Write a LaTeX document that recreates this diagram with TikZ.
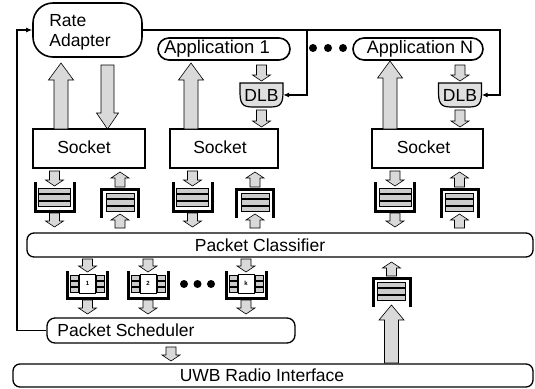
\documentclass[tikz,border=0pt]{standalone}
\usepackage{fontspec}
\setmainfont{Liberation Sans}
\usetikzlibrary{arrows.meta}
\newcommand{\UArr}[6]{\filldraw[barr] ({#1-#4},#2) -- ({#1-#4},{#3+#6}) -- ({#1-#5},{#3+#6}) -- (#1,#3) -- ({#1+#5},{#3+#6}) -- ({#1+#4},{#3+#6}) -- ({#1+#4},#2) -- cycle;}
\newcommand{\DArr}[6]{\filldraw[barr] ({#1-#4},#2) -- ({#1-#4},{#3-#6}) -- ({#1-#5},{#3-#6}) -- (#1,#3) -- ({#1+#5},{#3-#6}) -- ({#1+#4},{#3-#6}) -- ({#1+#4},#2) -- cycle;}
\newcommand{\SU}[3]{\UArr{#1}{#2}{#3}{5}{9}{6}}
\newcommand{\SD}[3]{\DArr{#1}{#2}{#3}{5}{9}{6}}
\newcommand{\QDown}[2]{%
 \foreach \o in {6,12.5,19}{\filldraw[bar] ({#1-16},{#2+\o}) rectangle ({#1+16},{#2+\o+5.5});}
 \draw[wall] ({#1-19.5},#2) -- ({#1-19.5},{#2+29}) -- ({#1+19.5},{#2+29}) -- ({#1+19.5},#2);}
\newcommand{\QUp}[2]{%
 \foreach \o in {4,10.5,17}{\filldraw[bar] ({#1-14},{#2+\o}) rectangle ({#1+14},{#2+\o+5.5});}
 \draw[wall] ({#1-18.5},{#2+29}) -- ({#1-18.5},#2) -- ({#1+18.5},#2) -- ({#1+18.5},{#2+29});}
\newcommand{\QNum}[3]{%
 \foreach \o in {4,10,16}{\filldraw[bar] ({#1-17},{#2+\o}) rectangle ({#1-9},{#2+\o+5}); \filldraw[bar] ({#1+9},{#2+\o}) rectangle ({#1+17},{#2+\o+5});}
 \filldraw[draw=black, line width=0.4pt, fill=white] ({#1-8},{#2+3}) rectangle ({#1+8},{#2+22});
 \node[font=\fontsize{6}{6}\selectfont\bfseries, inner sep=0pt] at (#1,{#2+12.5}) {#3};
 \draw[wall] ({#1-20},#2) -- ({#1-20},{#2+27}) -- ({#1+20},{#2+27}) -- ({#1+20},#2);}
\newcommand{\DLBshape}[2]{\filldraw[dlbs] ({#1-21.5},{#2-12}) -- ({#1+21.5},{#2-12}) -- ({#1+21.5},{#2-2}) .. controls ({#1+21.5},{#2+12}) and ({#1+16},{#2+12}) .. ({#1+6},{#2+12}) -- ({#1-6},{#2+12}) .. controls ({#1-16},{#2+12}) and ({#1-21.5},{#2+12}) .. ({#1-21.5},{#2-2}) -- cycle;}
\begin{document}
\begin{tikzpicture}[x=1pt,y=-1pt,
  box/.style={draw, line width=1.3pt, inner sep=0pt},
  txt/.style={font=\fontsize{17.5}{20}\selectfont, inner sep=0pt},
  barr/.style={draw, line width=0.6pt, fill=gray!30},
  wall/.style={line width=3pt},
  bar/.style={draw, line width=0.5pt, fill=gray!40},
  dlbs/.style={draw, line width=1.2pt, fill=gray!25},
  fb/.style={line width=1.1pt, -{Latex[length=6pt,width=5pt]}}
]
\useasboundingbox (0,0) rectangle (535,388);
% boxes
\node[box, rounded corners=20pt, minimum width=109pt, minimum height=54pt, line width=1.6pt] (ra) at (87.5,30) {};
\node[txt, align=left] (ratxt) at (80,32) {Rate\\Adapter};
\node[box, rounded corners=11pt, minimum width=132pt, minimum height=22pt, line width=1.6pt] (app1) at (224,49) {};
\node[txt, font=\fontsize{18.5}{20}\selectfont] (app1txt) at (217,49) {Application 1};
\node[box, rounded corners=11pt, minimum width=130pt, minimum height=22pt, line width=1.6pt] (appn) at (418,49) {};
\node[txt, font=\fontsize{18}{20}\selectfont] (appntxt) at (420,49) {Application N};
\foreach \p in {313,328,343}{\fill (\p,48) circle (4pt);}
\DLBshape{261.5}{95}
\node[txt, minimum width=43pt, minimum height=24pt] (dlb1) at (261.5,95) {DLB};
\DLBshape{460}{95}
\node[txt, minimum width=43pt, minimum height=24pt] (dlbn) at (460,95) {DLB};
\node[box, minimum width=112pt, minimum height=39pt] (s1) at (89,148.5) {};
\node[txt] (s1txt) at (84,147) {Socket};
\node[box, minimum width=108pt, minimum height=39pt] (s2) at (224,148.5) {};
\node[txt] (s2txt) at (220,147) {Socket};
\node[box, minimum width=111pt, minimum height=39pt] (s3) at (427.5,148.5) {};
\node[txt] (s3txt) at (423.5,147) {Socket};
\node[box, rounded corners=7pt, minimum width=506pt, minimum height=24pt] (pc) at (280,245) {};
\node[txt] (pctxt) at (260,245) {Packet Classifier};
\node[box, rounded corners=8pt, minimum width=248pt, minimum height=25pt] (ps) at (171,330.5) {};
\node[txt] (pstxt) at (126,330.5) {Packet Scheduler};
\node[box, rounded corners=7pt, minimum width=520pt, minimum height=23pt] (uwb) at (273,375.5) {};
\node[txt] (uwbtxt) at (262,375.5) {UWB Radio Interface};
% big arrows
\UArr{61}{129}{63}{7}{12.5}{17}
\DArr{107.5}{65}{129}{6.5}{11}{16}
\UArr{191}{129}{63}{7}{12.5}{17}
\UArr{390}{129}{61}{7}{12.5}{17}
% DLB arrows
\SD{261.5}{65}{81}
\SD{261.5}{110}{127}
\SD{460}{65}{81}
\SD{460}{110}{127}
% socket queues
\foreach \a/\b in {54.5/120, 192.5/255, 395/459.5}{
  \SD{\a}{171}{186}
  \QDown{\a}{182}
  \SD{\a}{213}{227}
  \SU{\b}{187}{172}
  \QUp{\b}{189}
  \SU{\b}{228}{214}
}
% scheduler queues
\foreach \x/\l in {87.5/1, 148/2, 246/k}{
  \SD{\x}{259}{272}
  \QNum{\x}{271}{\l}
  \SD{\x}{300}{314}
}
\foreach \p in {184,197.5,211}{\fill (\p,284) circle (4pt);}
\SD{171}{347}{361}
% receive path
\SU{391.5}{276}{262}
\QUp{391.5}{278}
\UArr{391.5}{363}{305}{7}{12.5}{15}
% feedback lines
\coordinate (fl) at (17,0);
\coordinate (fr) at (500,0);
\coordinate (fm) at (307,0);
\draw[fb] (ps.west) -- (ps.west -| fl) -- (ra.west -| fl) -- (ra.west);
\draw[fb] (ra.east) -- (ra.east -| fr) -- (dlbn.east -| fr) -- (dlbn.east);
\draw[fb] (ra.east -| fm) -- (dlb1.east -| fm) -- (dlb1.east);
\end{tikzpicture}
\end{document}
